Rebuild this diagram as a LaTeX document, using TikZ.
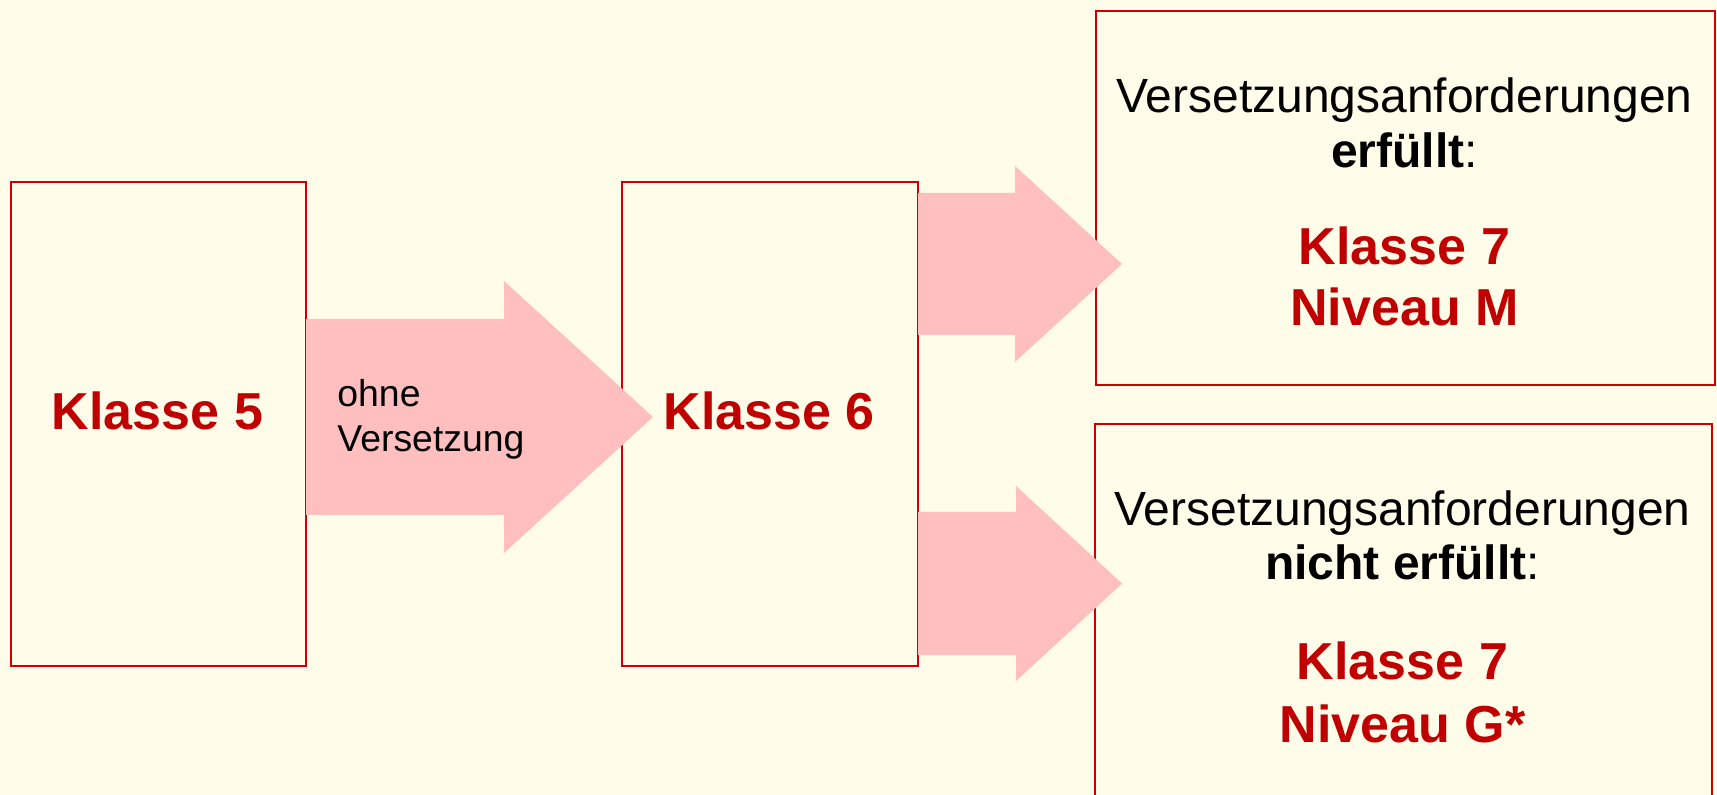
\documentclass[tikz,border=0pt]{standalone}
\usepackage{fontspec}
\setmainfont{Liberation Sans}
\definecolor{bgcream}{HTML}{FFFDE9}
\definecolor{boxred}{HTML}{CC0000}
\definecolor{txtred}{HTML}{C00000}
\definecolor{arrowpink}{HTML}{FFBFBF}
\begin{document}
\begin{tikzpicture}[x=0.5pt,y=-0.5pt,
  boxshape/.style={draw=boxred, line width=1pt, fill=bgcream, inner sep=0pt, anchor=north west},
  blockarrow/.style={fill=arrowpink, draw=none},
  bigred/.style={font=\bfseries\fontsize{26}{31}\selectfont, text=txtred, inner sep=0pt, anchor=base},
  plain/.style={font=\fontsize{24}{28}\selectfont, text=black, inner sep=0pt, anchor=base},
  small/.style={font=\fontsize{18.7}{22}\selectfont, text=black, inner sep=0pt, anchor=base west}]
\fill[bgcream] (0,0) rectangle (1717,795);
\useasboundingbox (0,0) rectangle (1717,795);
% boxes
\node[boxshape, minimum width=147.5pt, minimum height=242pt] (b5) at (10,181) {};
\node[boxshape, minimum width=148pt, minimum height=242pt] (b6) at (621,181) {};
\node[boxshape, minimum width=309.5pt, minimum height=187pt] (bM) at (1095,10) {};
\node[boxshape, minimum width=308.5pt, minimum height=210pt] (bG) at (1094,423) {};
% block arrows
\fill[blockarrow] (306,319) -- (504,319) -- (504,281) -- (653,417) -- (504,553) -- (504,515) -- (306,515) -- cycle;
\fill[blockarrow] (918,193) -- (1015,193) -- (1015,166) -- (1122,264) -- (1015,362) -- (1015,335) -- (918,335) -- cycle;
\fill[blockarrow] (918,512) -- (1016,512) -- (1016,486) -- (1122,583.5) -- (1016,681) -- (1016,655) -- (918,655) -- cycle;
% texts
\node[bigred] (k5) at (157.5,430) {Klasse 5};
\node[bigred] (k6) at (769,430) {Klasse 6};
\node[small] (ohne) at (337,407) {ohne};
\node[small] (vers) at (337,452) {Versetzung};
\node[plain] (mA) at (1404.5,113) {Versetzungsanforderungen};
\node[plain] (mB) at (1404.5,168) {\textbf{erfüllt}:};
\node[bigred] (mC) at (1404.5,265) {Klasse 7};
\node[bigred] (mD) at (1404.5,326) {Niveau M};
\node[plain] (gA) at (1402.5,526) {Versetzungsanforderungen};
\node[plain] (gB) at (1402.5,580) {\textbf{nicht erfüllt}:};
\node[bigred] (gC) at (1402.5,679) {Klasse 7};
\node[bigred] (gD) at (1402.5,742) {Niveau G*};
\end{tikzpicture}
\end{document}
